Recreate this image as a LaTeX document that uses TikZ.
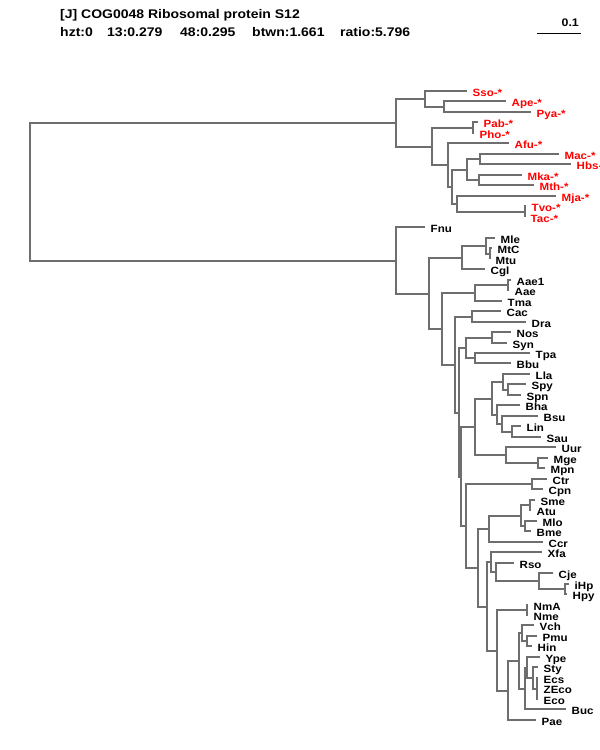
\documentclass[tikz,border=0pt]{standalone}
\usepackage{fontspec}
\setmainfont{Liberation Sans}
\newfontfamily\labfont[FakeStretch=1.1]{Liberation Sans}
\newfontfamily\hdrfont[FakeStretch=1.12]{Liberation Sans}
\definecolor{brc}{HTML}{6E6E6E}
\definecolor{arc}{HTML}{FF0000}
\tikzset{
  br/.style={draw=brc, line width=2pt},
  lab/.style={anchor=base west, inner sep=0pt, xshift=5.5pt, yshift=-5.5pt,
              font=\labfont\bfseries\fontsize{10.5}{12}\selectfont},
  alab/.style={lab, text=arc},
  blab/.style={lab, text=black},
  hdr/.style={anchor=base west, inner sep=0pt, font=\hdrfont\bfseries\fontsize{12.5}{14}\selectfont},
}
\newcommand\Tip[5]{%
  \pgfmathsetmacro\tmpy{round(91+10.48*#3)}%
  \expandafter\global\expandafter\let\csname Y@#1\endcsname\tmpy
  \coordinate (#1) at (#2,\tmpy);
  \node[#5] (l#1) at (#1) {#4};}
\newcommand\ATip[4]{\Tip{#1}{#2}{#3}{#4}{alab}}
\newcommand\BTip[3]{\Tip{#1}{#2}{#3}{#1}{blab}}
\newcommand\Clade[4]{%
  \edef\tmpa{\csname Y@#3\endcsname}\edef\tmpb{\csname Y@#4\endcsname}%
  \pgfmathsetmacro\tmpy{round((\tmpa+\tmpb)/2)}%
  \expandafter\global\expandafter\let\csname Y@#1\endcsname\tmpy
  \coordinate (#1) at (#2,\tmpy);
  \draw[br] (#1) |- (#3);
  \draw[br] (#1) |- (#4);}
\newcommand\CladeT[5]{%
  \Clade{#1}{#2}{#3}{#5}%
  \draw[br] (#1) |- (#4);}
\begin{document}
\begin{tikzpicture}[x=1pt,y=-1pt]
\useasboundingbox (0,0) rectangle (600,750);
\fill[white] (0,0) rectangle (600,750);
% header
\node[hdr] (title) at (60,18.5) {[J] COG0048 Ribosomal protein S12};
\node[hdr] (h1) at (60,36) {hzt:0};
\node[hdr] (h2) at (107,36) {13:0.279};
\node[hdr] (h3) at (180,36) {48:0.295};
\node[hdr] (h4) at (252,36) {btwn:1.661};
\node[hdr] (h5) at (340,36) {ratio:5.796};
\coordinate (s1) at (537,33);
\coordinate (s2) at (581,33);
\draw[black, line width=1pt] (s1) -- (s2);
\node[hdr, anchor=base east, font=\hdrfont\bfseries\fontsize{11}{13}\selectfont] (sc) at (579,26) {0.1};
% archaea tips
\ATip{Sso}{467}{0}{Sso-*}
\ATip{Ape}{506}{1}{Ape-*}
\ATip{Pya}{531}{2}{Pya-*}
\ATip{Pab}{478}{3}{Pab-*}
\ATip{Pho}{474}{4}{Pho-*}
\ATip{Afu}{509}{5}{Afu-*}
\ATip{Mac}{559}{6}{Mac-*}
\ATip{Hbs}{571}{7}{Hbs-*}
\ATip{Mka}{522}{8}{Mka-*}
\ATip{Mth}{534}{9}{Mth-*}
\ATip{Mja}{556}{10}{Mja-*}
\ATip{Tvo}{526}{11}{Tvo-*}
\ATip{Tac}{525}{12}{Tac-*}
% bacteria tips
\BTip{Fnu}{425}{13}
\BTip{Mle}{495}{14}
\BTip{MtC}{492}{15}
\BTip{Mtu}{490}{16}
\BTip{Cgl}{485}{17}
\BTip{Aae1}{511}{18}
\BTip{Aae}{509}{19}
\BTip{Tma}{502}{20}
\BTip{Cac}{501}{21}
\BTip{Dra}{526}{22}
\BTip{Nos}{511}{23}
\BTip{Syn}{507}{24}
\BTip{Tpa}{530}{25}
\BTip{Bbu}{511}{26}
\BTip{Lla}{530}{27}
\BTip{Spy}{526}{28}
\BTip{Spn}{521}{29}
\BTip{Bha}{520}{30}
\BTip{Bsu}{538}{31}
\BTip{Lin}{521}{32}
\BTip{Sau}{541}{33}
\BTip{Uur}{556}{34}
\BTip{Mge}{548}{35}
\BTip{Mpn}{545}{36}
\BTip{Ctr}{547}{37}
\BTip{Cpn}{543}{38}
\BTip{Sme}{535}{39}
\BTip{Atu}{531}{40}
\BTip{Mlo}{537}{41}
\BTip{Bme}{531}{42}
\BTip{Ccr}{543}{43}
\BTip{Xfa}{542}{44}
\BTip{Rso}{514}{45}
\BTip{Cje}{553}{46}
\BTip{iHp}{569}{47}
\BTip{Hpy}{567}{48}
\BTip{NmA}{528}{49}
\BTip{Nme}{528}{50}
\BTip{Vch}{534}{51}
\BTip{Pmu}{537}{52}
\BTip{Hin}{532}{53}
\BTip{Ype}{540}{54}
\BTip{Sty}{538}{55}
\BTip{Ecs}{538}{56}
\BTip{ZEco}{538}{57}
\BTip{Eco}{538}{58}
\BTip{Buc}{566}{59}
\BTip{Pae}{536}{60}
% archaea clades
\Clade{nApy}{444}{Ape}{Pya}
\Clade{nSso}{425}{Sso}{nApy}
\Clade{nPP}{473}{Pab}{Pho}
\Clade{nMH}{480}{Mac}{Hbs}
\Clade{nMM}{479}{Mka}{Mth}
\Clade{nMeth}{467}{nMH}{nMM}
\Clade{nTT}{525}{Tvo}{Tac}
\Clade{nMja}{457}{Mja}{nTT}
\Clade{nEuryA}{452}{nMeth}{nMja}
\Clade{nAfu}{448}{Afu}{nEuryA}
\Clade{nEury}{432}{nPP}{nAfu}
\Clade{nArch}{396}{nSso}{nEury}
% bacteria clades
\Clade{nMtb}{490}{MtC}{Mtu}
\Clade{nMyc}{486}{Mle}{nMtb}
\Clade{nAct}{462}{nMyc}{Cgl}
\Clade{nAae}{508}{Aae1}{Aae}
\Clade{nAq}{475}{nAae}{Tma}
\Clade{nCD}{472}{Cac}{Dra}
\Clade{nNS}{492}{Nos}{Syn}
\Clade{nTB}{475}{Tpa}{Bbu}
\Clade{nCy}{466}{nNS}{nTB}
\Clade{nSS}{508}{Spy}{Spn}
\Clade{nLac}{503}{Lla}{nSS}
\Clade{nLS}{512}{Lin}{Sau}
\Clade{nBsu}{502}{Bsu}{nLS}
\Clade{nBac}{497}{Bha}{nBsu}
\Clade{nFirm}{492}{nLac}{nBac}
\Clade{nMp}{538}{Mge}{Mpn}
\Clade{nMoll}{506}{Uur}{nMp}
\Clade{nFM}{475}{nFirm}{nMoll}
\Clade{nCh}{532}{Ctr}{Cpn}
\Clade{nSA}{530}{Sme}{Atu}
\Clade{nMB}{525}{Mlo}{Bme}
\Clade{nRh}{521}{nSA}{nMB}
\Clade{nAlp}{489}{nRh}{Ccr}
\Clade{nHp}{565}{iHp}{Hpy}
\Clade{nEps}{539}{Cje}{nHp}
\Clade{nRso}{496}{Rso}{nEps}
\Clade{nXfa}{491}{Xfa}{nRso}
\Clade{nNm}{527}{NmA}{Nme}
\Clade{nPH}{527}{Pmu}{Hin}
\Clade{nVch}{522}{Vch}{nPH}
\CladeT{nEThree}{537}{Ecs}{ZEco}{Eco}
\Clade{nSty}{533}{Sty}{nEThree}
\Clade{nEnt}{527}{Ype}{nSty}
\Clade{nBuc}{525}{nEnt}{Buc}
\Clade{nGThree}{519}{nVch}{nBuc}
\Clade{nGTwo}{508}{nGThree}{Pae}
\Clade{nGam}{497}{nNm}{nGTwo}
\Clade{nBEight}{487}{nXfa}{nGam}
\Clade{nBSeven}{478}{nAlp}{nBEight}
\Clade{nBSix}{466}{nCh}{nBSeven}
\Clade{nBFive}{461}{nFM}{nBSix}
\Clade{nBFour}{459}{nCy}{nBFive}
\Clade{nBThree}{455}{nCD}{nBFour}
\Clade{nBTwo}{442}{nAq}{nBThree}
\Clade{nBOne}{429}{nAct}{nBTwo}
\Clade{nBact}{396}{Fnu}{nBOne}
\Clade{root}{30}{nArch}{nBact}
\end{tikzpicture}
\end{document}
